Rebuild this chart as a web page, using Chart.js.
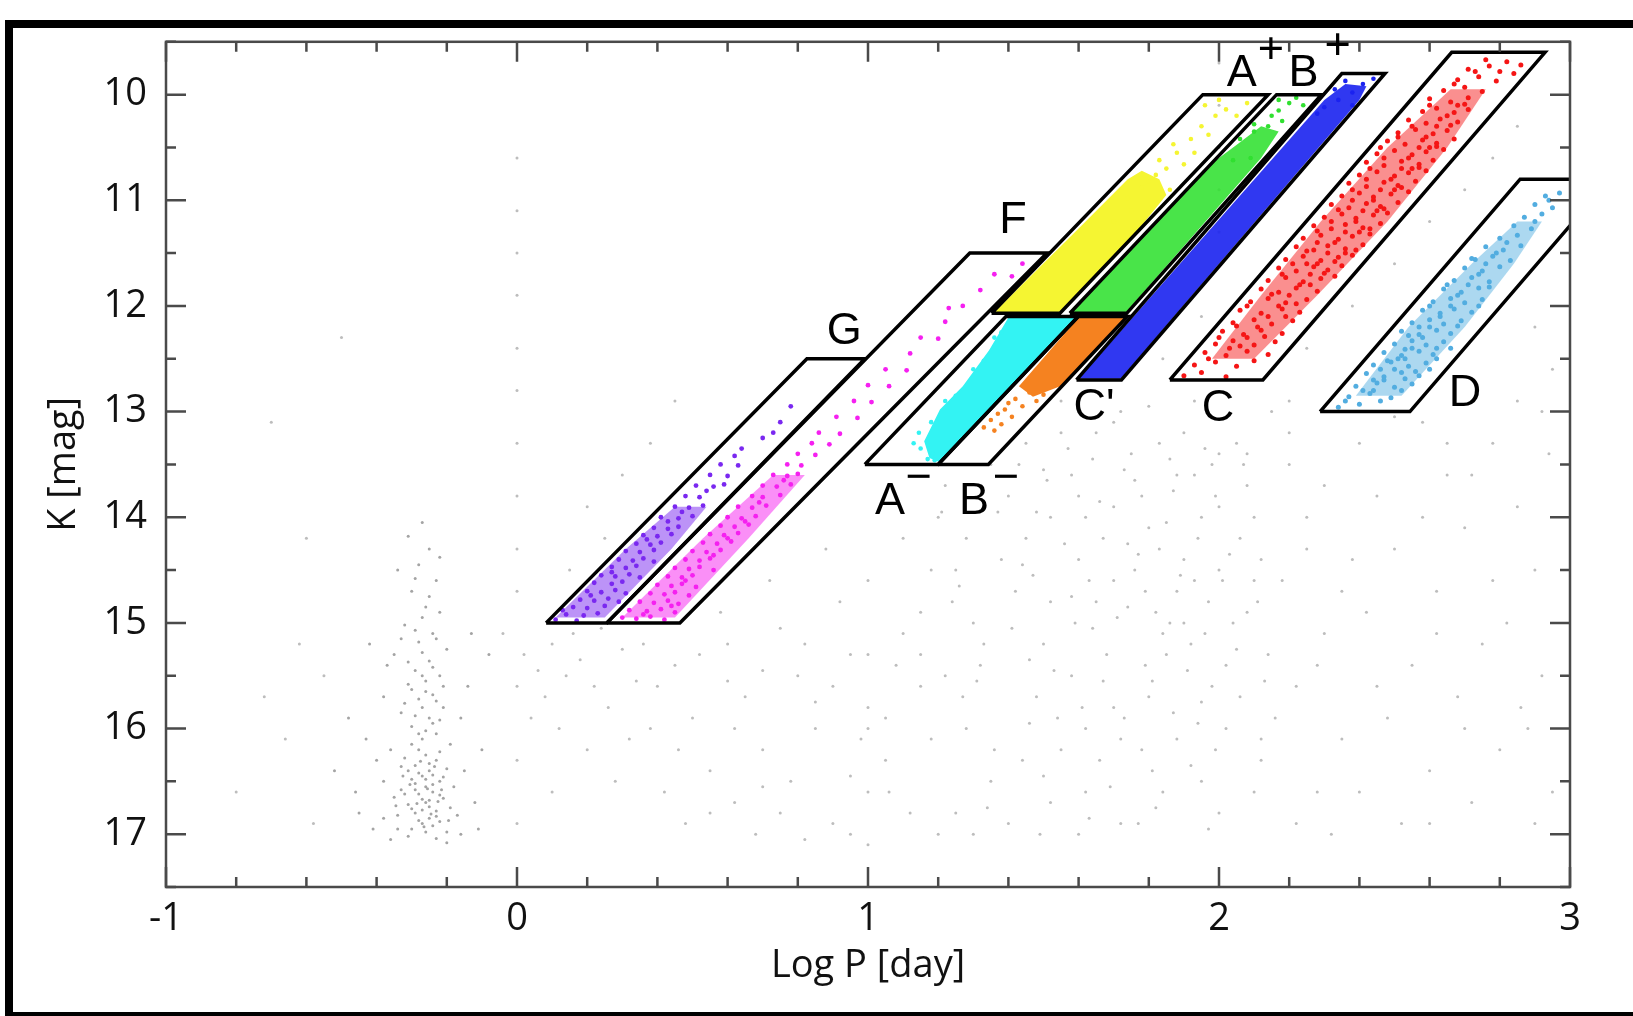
<!DOCTYPE html>
<html>
<head>
<meta charset="utf-8">
<title>K vs Log P</title>
<script src="https://cdn.jsdelivr.net/npm/chart.js@4.4.1/dist/chart.umd.min.js"></script>
<style>
    html, body { margin: 0; padding: 0; background: #fff; overflow: hidden; }
    #wrap { position: absolute; left: 0; top: 0; width: 1633px; height: 1016px; }
</style>
</head>
<body>
<div id="wrap"><canvas id="chart"></canvas></div>
<script>
// ===== DATA =====

const xTicks = [-1, 0, 1, 2, 3];
const xMinorTicks = [-0.8, -0.6, -0.4, -0.2, 0.2, 0.4, 0.6, 0.8, 1.2, 1.4, 1.6, 1.8, 2.2, 2.4, 2.6, 2.8];
const yTicks = [10, 11, 12, 13, 14, 15, 16, 17];
const yMinorTicks = [9.5, 10.5, 11.5, 12.5, 13.5, 14.5, 15.5, 16.5, 17.5];

// gray field stars: short-period clump and the broad cloud
const grayClump = [
    [-0.27,16.9],[-0.25,16.85],[-0.29,16.8],[-0.23,16.78],[-0.31,16.72],[-0.26,16.7],[-0.21,16.66],[-0.28,16.62],
    [-0.24,16.6],[-0.33,16.58],[-0.26,16.55],[-0.22,16.5],[-0.3,16.48],[-0.27,16.45],[-0.25,16.4],[-0.2,16.38],
    [-0.29,16.35],[-0.23,16.3],[-0.32,16.28],[-0.26,16.25],[-0.28,16.2],[-0.24,16.92],[-0.3,16.95],[-0.22,16.88],
    [-0.34,16.82],[-0.19,16.75],[-0.27,16.77],[-0.25,16.68],[-0.29,16.52],[-0.24,16.44],[-0.35,16.65],[-0.18,16.55],
    [-0.31,16.4],[-0.27,16.1],[-0.23,16.05],[-0.3,15.98],[-0.25,15.9],[-0.33,15.85],[-0.21,15.8],[-0.28,15.72],
    [-0.26,15.65],[-0.31,15.58],[-0.22,15.5],[-0.29,15.45],[-0.25,15.36],[-0.35,15.3],[-0.2,15.25],[-0.28,15.18],
    [-0.24,15.1],[-0.32,15.02],[-0.27,14.95],[-0.38,15.7],[-0.16,15.9],[-0.4,16.3],[-0.15,16.4],[-0.26,14.85],
    [-0.3,14.7],[-0.23,14.6],[-0.28,14.45],[-0.25,14.3],[-0.31,14.18],[-0.27,14.05],[-0.22,14.9],[-0.34,14.5],
    [-0.45,16.8],[-0.41,16.95],[-0.38,16.5],[-0.43,16.1],[-0.37,15.4],[-0.12,16.7],[-0.1,16.2],[-0.14,15.6],
    [-0.08,15.3],[-0.16,17.0],[-0.36,17.05],[-0.2,17.08],[-0.48,15.9],[-0.52,16.4],[-0.11,16.95],
    [-0.26,16.98],[-0.28,16.87],[-0.23,16.83],[-0.3,16.76],[-0.25,16.74],[-0.27,16.67],[-0.22,16.63],[-0.32,16.62],
    [-0.29,16.58],[-0.24,16.53],[-0.26,16.48],[-0.21,16.46],[-0.28,16.42],[-0.33,16.36],[-0.25,16.33],[-0.22,16.22],
    [-0.3,16.15],[-0.26,16.02],[-0.24,15.95],[-0.29,15.88],[-0.27,15.8],[-0.23,15.74],[-0.3,15.63],[-0.26,15.55],
    [-0.24,15.42],[-0.31,15.37],[-0.27,15.28],[-0.23,15.15],[-0.29,15.07],[-0.25,14.75],[-0.29,14.58],[-0.22,14.38],
    [-0.36,16.2],[-0.19,16.15],[-0.38,16.85],[-0.17,16.82],[-0.2,16.98],[-0.34,16.95],[-0.31,17.02],[-0.23,17.04],
    [-0.265,16.93],[-0.245,16.81],[-0.285,16.71],[-0.225,16.69],[-0.305,16.53],[-0.255,16.57],[-0.235,16.36],
    [-0.275,16.31],[-0.215,16.58],[-0.325,16.45],[-0.195,16.87],[-0.345,16.73],[-0.28,16.05],[-0.22,15.92],
    [-0.32,15.76],[-0.24,15.68],[-0.27,15.5],[-0.33,15.15],[-0.21,15.6],[-0.42,15.2],[-0.13,15.1],[-0.46,16.6]
];
const grayField = [
    [-0.62,15.2],[-0.58,16.9],[-0.66,16.1],[-0.72,15.7],[-0.55,15.5],[-0.8,16.6],[-0.7,13.1],[-0.5,12.3],[-0.6,14.2],
    [0.0,10.6],[0.0,11.1],[0.0,11.5],[0.0,11.9],[0.0,12.4],[0.0,12.8],[0.0,13.3],[0.0,13.8],[0.0,14.3],[0.0,14.7],
    [0.0,15.6],[0.0,16.3],[0.0,16.9],[2.0,9.7],[2.0,10.1],[2.0,10.5],[2.0,10.9],[2.0,11.3],[2.0,13.4],[2.0,13.9],
    [2.0,14.5],[1.0,16.0],[1.0,16.6],[1.0,17.1],[1.0,15.3],
    [0.02,15.3],[0.06,15.45],[0.1,15.2],[0.14,15.5],[0.08,15.7],[0.18,15.35],[0.22,15.6],[0.04,15.9],[0.12,16.0],
    [0.26,15.8],[0.3,15.25],[0.34,15.55],[0.2,16.2],[-0.04,15.1],[0.16,15.1],[0.28,16.5],[0.38,16.0],[0.1,16.6],
    [0.36,15.2],[0.24,15.05],[0.25,14.2],[0.3,13.6],[0.38,13.3],[0.2,13.9],[0.45,12.9],[0.15,14.5],
    [0.45,15.4],[0.5,15.9],[0.55,16.4],[0.48,16.9],[0.6,15.2],[0.65,15.7],[0.7,16.2],[0.62,16.7],[0.75,15.05],
    [0.8,15.5],[0.85,16.0],[0.78,16.5],[0.9,16.9],[0.95,15.3],[1.0,15.8],[1.05,16.3],[0.92,14.8],[1.1,15.1],
    [1.15,15.6],[1.12,16.8],[0.58,14.9],[0.72,14.6],[0.68,17.0],[0.42,16.6],[0.88,14.3],[1.0,14.6],[0.82,17.05],
    [1.2,14.0],[1.25,14.5],[1.3,15.0],[1.22,15.5],[1.28,16.0],[1.35,16.5],[1.3,17.0],[1.4,13.8],[1.45,14.2],
    [1.42,14.7],[1.5,15.2],[1.48,15.7],[1.55,16.2],[1.52,16.7],[1.58,13.6],[1.62,14.0],[1.6,14.4],[1.65,14.8],
    [1.68,15.3],[1.7,15.8],[1.66,16.3],[1.72,16.9],[1.75,13.4],[1.78,13.8],[1.8,14.1],[1.76,14.5],[1.82,14.9],
    [1.85,15.3],[1.8,15.7],[1.88,16.1],[1.84,16.6],[1.9,13.2],[1.93,13.6],[1.95,14.0],[1.9,14.4],[1.97,14.8],
    [1.92,15.2],[1.98,15.6],[2.02,16.0],[1.95,16.5],[2.05,13.3],[2.08,13.7],[2.06,14.2],[2.1,14.6],[2.04,15.0],
    [1.35,13.5],[1.55,13.2],[1.7,13.1],[1.86,13.45],[1.74,14.25],[1.64,15.05],[1.58,15.5],[1.46,15.95],[1.38,14.4],
    [1.52,14.0],[1.84,15.1],[1.94,15.95],[2.0,16.8],[1.62,16.6],[1.44,16.3],[1.25,16.8],[1.18,14.5],[1.32,15.4],
    [1.7,14.6],[1.88,14.7],[1.66,13.85],[1.78,16.2],[1.6,17.0],[1.55,12.9],[1.65,13.2],[1.45,13.3],[1.5,13.55],
    [2.15,13.0],[2.2,13.5],[2.25,14.0],[2.18,14.6],[2.3,15.1],[2.22,15.6],[2.35,16.1],[2.28,16.6],[2.4,13.3],
    [2.45,13.8],[2.5,14.3],[2.42,14.9],[2.55,15.4],[2.48,15.9],[2.6,16.4],[2.52,16.9],[2.65,13.6],[2.7,14.1],
    [2.62,14.7],[2.75,15.2],[2.68,15.7],[2.8,16.2],[2.72,16.7],[2.85,13.9],[2.9,14.5],[2.82,15.0],[2.92,15.5],
    [2.88,16.0],[2.95,16.6],[2.58,13.1],[2.78,13.3],[2.12,16.3],[2.32,17.0],[2.2,12.9],
    [2.25,12.4],[2.38,12.0],[2.5,11.6],[2.6,11.2],[2.7,10.9],[2.78,10.6],[2.85,10.3],[2.9,12.2],[2.95,12.6],
    [2.85,12.9],[2.92,13.0],[1.84,12.5],[1.95,12.1],[1.93,12.9],[1.8,12.95],[1.72,13.0],
    [1.22,13.7],[1.28,14.2],[1.24,14.8],[1.33,15.2],[1.27,15.7],[1.36,16.2],[1.4,16.9],[1.43,13.5],[1.48,13.95],
    [1.44,14.45],[1.52,14.8],[1.46,15.35],[1.54,15.9],[1.5,16.45],[1.57,13.35],[1.6,13.8],[1.56,14.25],[1.63,14.6],
    [1.59,15.0],[1.67,15.55],[1.62,16.0],[1.69,16.55],[1.73,13.55],[1.7,13.9],[1.77,14.35],[1.74,14.85],[1.79,15.4],
    [1.73,15.9],[1.81,16.4],[1.77,16.9],[1.83,13.3],[1.87,13.75],[1.83,14.3],[1.89,14.55],[1.86,15.0],[1.91,15.45],
    [1.87,15.85],[1.92,16.35],[1.96,13.35],[1.99,13.8],[1.94,14.2],[2.01,14.6],[1.96,15.1],[2.02,15.4],[1.99,16.2],
    [2.07,13.5],[2.1,14.0],[2.12,14.4],[2.08,14.9],[2.14,15.3],[2.06,15.7],[2.12,16.1],[2.1,16.6],[1.1,14.2],
    [1.15,14.9],[1.08,15.4],[1.18,16.1],[1.06,16.6],[1.2,17.0],[0.98,16.1],[0.9,15.6],[0.82,15.2],[0.7,15.45],
    [0.62,16.0],[0.52,15.3],[0.4,15.6],[0.32,16.1],[0.55,16.8],[0.75,16.8],[0.95,17.0],[2.2,13.2],[2.3,13.7],
    [2.38,14.4],[2.28,15.4],[2.45,15.6],[2.58,14.0],[2.62,15.1],[2.7,16.0],[2.78,14.6],[2.86,15.8],[2.9,16.9],
    [2.4,16.6],[2.22,16.9],[2.6,16.9],[2.35,14.7],[2.16,15.9],[2.25,14.3],[2.5,13.05],[2.65,13.3],[2.72,13.6],[2.94,13.4],
    [1.21,13.95],[1.26,14.65],[1.31,15.55],[1.37,13.95],[1.41,15.05],[1.47,14.55],[1.51,13.65],[1.53,15.45],
    [1.58,14.75],[1.61,15.8],[1.64,13.45],[1.67,14.2],[1.71,14.95],[1.72,16.1],[1.76,13.65],[1.79,14.7],
    [1.81,15.55],[1.85,14.05],[1.88,13.6],[1.9,15.0],[1.93,14.6],[1.95,15.75],[1.98,13.5],[2.03,14.35],
    [2.05,15.25],[2.08,13.4],[2.11,14.8],[2.13,15.55],[1.34,16.75],[1.49,17.0],[1.63,16.85],[1.82,16.75],
    [1.97,16.95],[1.15,15.3],[1.05,15.9],[0.95,16.45],[0.85,15.75],[0.7,16.55],[0.6,15.55],[0.46,16.2]
];

// colored period-luminosity groups
const starsG = [
    [0.14,14.92],[0.19,14.93],[0.23,14.91],[0.11,14.97],[0.17,14.98],[0.16,14.85],[0.20,14.86],[0.25,14.84],
    [0.18,14.78],[0.22,14.79],[0.26,14.77],[0.29,14.8],[0.20,14.7],[0.24,14.71],[0.28,14.69],[0.31,14.72],
    [0.22,14.62],[0.27,14.63],[0.30,14.61],[0.24,14.55],[0.28,14.56],[0.32,14.54],[0.35,14.57],[0.27,14.47],
    [0.31,14.48],[0.34,14.46],[0.29,14.4],[0.33,14.41],[0.36,14.39],[0.39,14.42],[0.31,14.32],[0.35,14.33],
    [0.39,14.31],[0.34,14.25],[0.38,14.26],[0.41,14.24],[0.36,14.17],[0.40,14.18],[0.44,14.16],[0.39,14.1],
    [0.43,14.11],[0.46,14.09],[0.41,14.0],[0.46,14.01],[0.50,13.99],[0.45,13.9],[0.49,13.91],[0.53,13.89],
    [0.48,13.8],[0.52,13.81],[0.51,13.7],[0.56,13.71],[0.59,13.69],[0.55,13.6],[0.60,13.61],[0.58,13.5],
    [0.63,13.51],[0.64,13.35],[0.70,13.25],[0.73,13.2],[0.75,13.1],[0.78,12.95],
    [0.13,14.88],[0.21,14.74],[0.27,14.52],[0.37,14.21],[0.43,14.04],[0.47,13.95],[0.54,13.75],[0.62,13.42]
];
const coreG = [[0.11,14.95],[0.25,14.95],[0.44,14.3],[0.54,13.9],[0.45,13.9],[0.31,14.3]];
const starsF = [
    [0.30,14.95],[0.34,14.96],[0.38,14.94],[0.42,14.97],[0.32,14.88],[0.37,14.89],[0.41,14.87],[0.45,14.9],
    [0.35,14.8],[0.39,14.81],[0.43,14.79],[0.46,14.82],[0.38,14.72],[0.42,14.73],[0.45,14.71],[0.49,14.74],
    [0.40,14.64],[0.44,14.65],[0.47,14.63],[0.51,14.66],[0.43,14.56],[0.47,14.57],[0.50,14.55],[0.45,14.48],
    [0.49,14.49],[0.52,14.47],[0.56,14.5],[0.48,14.4],[0.52,14.41],[0.55,14.39],[0.50,14.32],[0.54,14.33],
    [0.58,14.31],[0.53,14.24],[0.57,14.25],[0.61,14.23],[0.55,14.16],[0.59,14.17],[0.63,14.15],[0.58,14.08],
    [0.62,14.09],[0.66,14.07],[0.60,14.0],[0.64,14.01],[0.68,13.99],[0.63,13.9],[0.67,13.91],[0.71,13.89],
    [0.67,13.8],[0.70,13.81],[0.75,13.79],[0.70,13.7],[0.74,13.71],[0.78,13.69],[0.73,13.6],[0.77,13.61],
    [0.80,13.59],[0.77,13.5],[0.81,13.51],[0.80,13.4],[0.85,13.41],[0.84,13.3],[0.89,13.31],[0.86,13.2],
    [0.92,13.21],[0.91,13.05],[0.97,13.06],[0.96,12.9],[1.01,12.91],[1.00,12.75],[1.06,12.76],[1.05,12.6],
    [1.11,12.61],[1.12,12.45],[1.15,12.3],[1.20,12.31],[1.22,12.15],[1.27,12.0],[1.23,12.02],[1.32,11.85],
    [1.36,11.7],[1.41,11.72],[1.44,11.6],
    [0.36,14.92],[0.44,14.84],[0.48,14.6],[0.56,14.36],[0.6,14.2],[0.65,14.04],[0.69,13.86],[0.76,13.65]
];
const coreF = [[0.30,14.95],[0.45,14.95],[0.66,14.2],[0.82,13.6],[0.73,13.6],[0.53,14.2]];
const starsAplus = [
    [1.80,10.82],[1.85,10.70],[1.78,10.88],[1.88,10.55],[1.83,10.62],[1.92,10.42],[1.87,10.47],[1.95,10.30],
    [1.99,10.20],[2.02,10.14],[1.96,10.10],[1.90,10.66],[1.82,10.76],[1.86,10.9],[1.75,11.1],[1.81,11.05],
    [1.70,11.2],[1.66,11.28],[1.74,10.98],[2.05,10.2],[2.08,10.08],[1.93,10.55],[1.97,10.38],[1.76,11.25],[2.0,10.05]
];
const coreAplus = [[1.36,12.06],[1.545,12.06],[1.765,11.3],[1.85,10.95],[1.83,10.8],[1.78,10.72],[1.74,10.8],[1.62,11.2]];
const starsBplus = [
    [2.06,10.42],[2.10,10.35],[2.14,10.3],[2.10,10.28],[2.15,10.2],[2.17,10.15],[2.2,10.08],[2.17,10.05],
    [2.22,10.03],[2.18,10.25],[2.04,10.62],[2.09,10.6],[2.24,10.1]
];
const coreBplus = [[1.58,12.06],[1.735,12.06],[2.12,10.6],[2.17,10.35],[2.12,10.3],[2.06,10.45],[1.98,10.65]];
const starsCprime = [
    [2.30,10.12],[2.34,10.05],[2.38,9.98],[2.33,9.95],[2.41,9.9],[2.36,9.87],[2.44,9.85],[2.38,10.1],[2.28,10.18]
];
const coreCprime = [[1.60,12.69],[1.72,12.69],[2.40,10.05],[2.42,9.92],[2.36,9.9],[2.30,10.05]];
const starsAminus = [
    [1.15,13.35],[1.17,13.45],[1.13,13.3],[1.185,13.4],[1.145,13.2],[1.19,13.46],[1.18,13.1],[1.22,12.9],
    [1.25,12.85],[1.30,12.6],[1.33,12.52],[1.36,12.3],[1.38,12.25]
];
const coreAminus = [[1.40,12.11],[1.597,12.11],[1.205,13.48],[1.175,13.44],[1.16,13.28],[1.205,12.98],[1.27,12.76],[1.345,12.42]];
const starsBminus = [
    [1.40,12.92],[1.44,12.95],[1.37,13.02],[1.35,13.08],[1.38,13.12],[1.33,13.15],[1.42,12.88],[1.48,12.9],
    [1.39,12.98],[1.46,12.82],[1.50,12.84],[1.36,13.18],[1.41,13.05]
];
const coreBminus = [[1.60,12.11],[1.738,12.11],[1.555,12.75],[1.47,12.86],[1.43,12.76]];
const starsC = [
    [1.90,12.66],[1.95,12.63],[2.02,12.67],[1.93,12.56],[1.99,12.53],[2.05,12.57],[2.10,12.52],
    [1.96,12.44],[2.02,12.47],[2.08,12.43],[2.14,12.46],[1.99,12.36],[2.04,12.33],[2.10,12.37],[2.16,12.34],
    [2.01,12.24],[2.07,12.27],[2.12,12.23],[2.18,12.26],[2.04,12.16],[2.10,12.13],[2.15,12.17],[2.21,12.14],
    [2.06,12.04],[2.12,12.07],[2.18,12.03],[2.23,12.06],[2.09,11.96],[2.14,11.93],[2.19,11.97],[2.25,11.94],
    [2.12,11.84],[2.17,11.87],[2.22,11.83],[2.28,11.86],[2.14,11.76],[2.19,11.73],[2.24,11.77],[2.29,11.74],
    [2.33,11.72],[2.17,11.64],[2.22,11.67],[2.27,11.63],[2.31,11.66],[2.35,11.62],[2.19,11.56],[2.24,11.53],
    [2.29,11.57],[2.34,11.54],[2.38,11.52],[2.22,11.44],[2.27,11.47],[2.31,11.43],[2.36,11.46],[2.41,11.42],
    [2.24,11.36],[2.29,11.33],[2.34,11.37],[2.38,11.34],[2.43,11.32],[2.27,11.24],[2.32,11.27],[2.36,11.23],
    [2.41,11.26],[2.46,11.22],[2.30,11.16],[2.35,11.13],[2.39,11.17],[2.44,11.14],[2.48,11.12],[2.32,11.04],
    [2.37,11.07],[2.42,11.03],[2.46,11.06],[2.51,11.02],[2.35,10.96],[2.40,10.93],[2.44,10.97],[2.49,10.94],
    [2.54,10.92],[2.37,10.84],[2.42,10.87],[2.47,10.83],[2.51,10.86],[2.56,10.82],[2.40,10.76],[2.45,10.73],
    [2.50,10.77],[2.54,10.74],[2.59,10.72],[2.42,10.64],[2.47,10.67],[2.52,10.63],[2.57,10.66],[2.61,10.62],
    [2.45,10.56],[2.50,10.53],[2.55,10.57],[2.59,10.54],[2.64,10.52],[2.48,10.44],[2.53,10.47],[2.58,10.43],
    [2.62,10.46],[2.67,10.42],[2.51,10.36],[2.56,10.33],[2.61,10.37],[2.65,10.34],[2.54,10.24],[2.59,10.27],
    [2.63,10.23],[2.68,10.26],[2.58,10.16],[2.62,10.13],[2.67,10.17],[2.71,10.14],[2.60,10.04],[2.66,10.07],
    [2.71,10.03],[2.64,9.96],[2.70,9.93],[2.75,9.97],[2.68,9.86],[2.74,9.83],[2.79,9.87],[2.71,9.76],
    [2.77,9.73],[2.76,9.67],[2.82,9.69],
    [2.03,12.40],[2.08,12.30],[2.11,12.20],[2.14,12.10],[2.17,12.00],[2.20,11.90],[2.23,11.80],[2.26,11.70],
    [2.28,11.60],[2.31,11.50],[2.33,11.40],[2.36,11.30],[2.39,11.20],[2.41,11.10],[2.44,11.00],[2.46,10.90],
    [2.49,10.80],[2.52,10.70],[2.54,10.60],[2.57,10.50],[2.59,10.40],[2.62,10.30],[2.65,10.20],[2.68,10.10],
    [2.25,11.60],[2.36,11.50],[2.28,11.40],[2.40,11.30],[2.32,11.20],[2.45,11.10],[2.38,11.00],[2.50,10.90],
    [2.42,10.80],[2.55,10.70],[2.47,10.60],[2.60,10.50],[2.51,10.40],
    [1.97,12.5],[2.06,12.38],[2.0,12.3],[2.13,12.29],[2.05,12.19],[2.19,12.1],[2.08,12.0],[2.22,11.98],
    [2.15,11.89],[2.26,11.8],[2.18,11.7],[2.3,11.69],[2.21,11.6],[2.33,11.58],[2.25,11.48],[2.39,11.47],
    [2.28,11.29],[2.43,11.27],[2.34,11.09],[2.47,11.08],[2.38,10.9],[2.52,10.88],[2.43,10.7],[2.57,10.69],
    [2.46,10.5],[2.62,10.49],[2.55,10.3],[2.66,10.29],[2.6,10.1],[2.7,10.09],[2.67,9.9],[2.73,9.78],
    [2.8,9.78],[2.86,9.72],[2.84,9.8]
];
const coreC = [[1.98,12.5],[2.10,12.5],[2.28,11.9],[2.48,11.2],[2.65,10.5],[2.76,9.95],[2.66,9.95],[2.48,10.5],[2.29,11.2],[2.12,11.9]];
const starsD = [
    [2.34,12.96],[2.40,12.93],[2.37,12.86],[2.43,12.83],[2.49,12.87],[2.39,12.76],[2.45,12.73],[2.50,12.77],
    [2.55,12.74],[2.42,12.64],[2.47,12.67],[2.52,12.63],[2.57,12.66],[2.44,12.56],[2.49,12.53],[2.54,12.57],
    [2.59,12.54],[2.47,12.44],[2.52,12.47],[2.57,12.43],[2.61,12.46],[2.50,12.36],[2.55,12.33],[2.59,12.37],
    [2.64,12.34],[2.52,12.24],[2.57,12.27],[2.62,12.23],[2.66,12.26],[2.55,12.16],[2.60,12.13],[2.64,12.17],
    [2.69,12.14],[2.58,12.04],[2.63,12.07],[2.67,12.03],[2.72,12.06],[2.61,11.96],[2.66,11.93],[2.70,11.97],
    [2.75,11.94],[2.64,11.84],[2.69,11.87],[2.74,11.83],[2.67,11.76],[2.72,11.73],[2.77,11.77],[2.70,11.64],
    [2.75,11.67],[2.80,11.63],[2.73,11.56],[2.78,11.53],[2.83,11.57],[2.76,11.44],[2.81,11.47],[2.86,11.43],
    [2.80,11.36],[2.85,11.33],[2.84,11.24],[2.89,11.27],[2.87,11.16],[2.92,11.13],[2.90,11.04],[2.95,11.07],
    [2.93,10.96],[2.97,10.93],
    [2.47,12.70],[2.50,12.60],[2.53,12.50],[2.55,12.40],[2.58,12.30],[2.60,12.20],[2.63,12.10],[2.66,12.00],
    [2.68,11.90],[2.71,11.80],[2.74,11.70],[2.76,11.60],[2.79,11.50],[2.44,12.80],[2.56,12.62],[2.48,12.52],
    [2.62,12.40],[2.54,12.28],
    [2.36,12.9],[2.46,12.9],[2.41,12.8],[2.52,12.8],[2.44,12.7],[2.53,12.69],[2.46,12.6],[2.6,12.6],
    [2.51,12.5],[2.62,12.5],[2.53,12.41],[2.66,12.4],[2.57,12.2],[2.68,12.19],[2.6,12.0],[2.74,12.0],
    [2.65,11.8],[2.77,11.82],[2.72,11.55],[2.82,11.4],[2.9,11.2],[2.94,11.0]
];
const coreD = [[2.39,12.85],[2.52,12.85],[2.70,12.2],[2.84,11.6],[2.92,11.2],[2.85,11.2],[2.72,11.6],[2.54,12.2]];

// selection boxes (closed outlines)
const boxG = [[0.083,15.0],[0.826,12.5],[0.991,12.5],[0.256,15.0],[0.083,15.0]];
const boxF = [[0.256,15.0],[1.29,11.5],[1.51,11.5],[0.464,15.0],[0.256,15.0]];
const boxAplus = [[1.352,12.07],[1.954,10.0],[2.14,10.0],[1.547,12.07],[1.352,12.07]];
const boxBplus = [[1.575,12.07],[2.164,10.0],[2.292,10.0],[1.737,12.07],[1.575,12.07]];
const boxCprime = [[1.594,12.7],[2.35,9.8],[2.473,9.8],[1.722,12.7],[1.594,12.7]];
const boxAminus = [[0.991,13.5],[1.393,12.1],[1.599,12.1],[1.2,13.5],[0.991,13.5]];
const boxBminus = [[1.2,13.5],[1.599,12.1],[1.739,12.1],[1.343,13.5],[1.2,13.5]];
const boxC = [[1.86,12.7],[2.663,9.6],[2.929,9.6],[2.125,12.7],[1.86,12.7]];
const boxD = [[2.288,13.0],[2.858,10.8],[3.114,10.8],[2.544,13.0],[2.288,13.0]];

// box names: [text, logP, K]
const boxLabels = [
    ['G', 0.932, 12.24], ['F', 1.413, 11.19],
    ['A', 2.065, 9.8], ['+', 2.148, 9.58], ['B', 2.241, 9.8], ['+', 2.338, 9.55],
    ["C'", 1.644, 12.96], ['C', 1.997, 12.97], ['D', 2.701, 12.83],
    ['A', 1.063, 13.85], ['\u2212', 1.144, 13.63], ['B', 1.302, 13.85], ['\u2212', 1.393, 13.63]
];

// ===== STYLE =====

const COLORS = {
    G: '#7a28f0', F: '#f520f0', Aplus: '#f5f532', Bplus: '#30e030', Cprime: '#1a22f0',
    Aminus: '#33f3f3', Bminus: '#f58220', C: '#f51515', D: '#52ade0'
};
const CORE_FILLS = {
    G: 'rgba(122,40,240,0.5)', F: 'rgba(245,32,240,0.5)', Bplus: 'rgba(48,224,48,0.88)',
    Cprime: 'rgba(26,34,240,0.9)', C: 'rgba(245,21,21,0.48)', D: 'rgba(82,173,224,0.48)'
};
const TEXT_FONT = '"Open Sans", "Noto Sans", sans-serif';

const toXY = arr => arr.map(([x, y]) => ({ x, y }));

function dots(data, color, radius, order = 2) {
    return { data: toXY(data), pointRadius: radius, backgroundColor: color, borderWidth: 0, pointHoverRadius: radius, order };
}

function core(data, color) {
    return { data: toXY(data), showLine: true, fill: 'shape', backgroundColor: color, borderWidth: 0, pointRadius: 0, order: 3 };
}

function outline(data) {
    return { data: toXY(data), showLine: true, fill: false, borderColor: '#000', borderWidth: 3.5, pointRadius: 0, tension: 0, order: 0 };
}

// ===== PLUGINS =====

/** Black page frame: top, left and bottom only (the right side is open) */
const pageFrame = {
    id: 'pageFrame',
    beforeDraw(chart) {
        const { ctx, width, height } = chart;
        ctx.save();
        ctx.fillStyle = '#000';
        ctx.fillRect(5, 20, width - 5, 8);
        ctx.fillRect(5, 20, 8, height - 20);
        ctx.fillRect(5, height - 4, width - 5, 4);
        ctx.restore();
    }
};

/** Plot frame with inward ticks on all four sides */
const frameTicks = {
    id: 'frameTicks',
    afterDatasetsDraw(chart) {
        const { ctx, chartArea: a, scales: { x, y } } = chart;
        ctx.save();
        ctx.strokeStyle = '#4a4a4a';
        ctx.lineWidth = 2.5;
        ctx.strokeRect(a.left, a.top, a.right - a.left, a.bottom - a.top);
        ctx.beginPath();
        const xMark = (v, len) => {
            const px = x.getPixelForValue(v);
            ctx.moveTo(px, a.bottom); ctx.lineTo(px, a.bottom - len);
            ctx.moveTo(px, a.top); ctx.lineTo(px, a.top + len);
        };
        const yMark = (v, len) => {
            const py = y.getPixelForValue(v);
            ctx.moveTo(a.left, py); ctx.lineTo(a.left + len, py);
            ctx.moveTo(a.right, py); ctx.lineTo(a.right - len, py);
        };
        xTicks.forEach(v => xMark(v, 20));
        xMinorTicks.forEach(v => xMark(v, 10));
        yTicks.forEach(v => yMark(v, 20));
        yMinorTicks.forEach(v => yMark(v, 10));
        ctx.stroke();
        ctx.restore();
    }
};

/** Box names placed in data coordinates */
const boxNames = {
    id: 'boxNames',
    afterDatasetsDraw(chart) {
        const { ctx, scales: { x, y } } = chart;
        ctx.save();
        ctx.fillStyle = '#000';
        ctx.font = '45px "Liberation Sans", Arial, sans-serif';
        ctx.textAlign = 'center';
        ctx.textBaseline = 'middle';
        boxLabels.forEach(([text, lx, ly]) => {
            ctx.fillText(text, x.getPixelForValue(lx), y.getPixelForValue(ly));
        });
        ctx.restore();
    }
};

// ===== CHART =====

new Chart(document.getElementById('chart'), {
    type: 'scatter',
    data: {
        datasets: [
            outline(boxG), outline(boxF), outline(boxAplus), outline(boxBplus), outline(boxCprime),
            outline(boxAminus), outline(boxBminus), outline(boxC), outline(boxD),
            dots(starsG, COLORS.G, 2.4), dots(starsF, COLORS.F, 2.4),
            dots(starsAplus, COLORS.Aplus, 2.3), dots(starsBplus, COLORS.Bplus, 2.3),
            dots(starsCprime, COLORS.Cprime, 2.3), dots(starsAminus, COLORS.Aminus, 2.3),
            dots(starsBminus, COLORS.Bminus, 2.3), dots(starsC, COLORS.C, 2.5), dots(starsD, COLORS.D, 2.5),
            core(coreAplus, COLORS.Aplus), core(coreBplus, CORE_FILLS.Bplus), core(coreCprime, CORE_FILLS.Cprime),
            core(coreAminus, COLORS.Aminus), core(coreBminus, COLORS.Bminus),
            core(coreG, CORE_FILLS.G), core(coreF, CORE_FILLS.F), core(coreC, CORE_FILLS.C), core(coreD, CORE_FILLS.D),
            dots(grayClump, '#a4a4a4', 1.5, 4),
            dots(grayField, '#bdbdbd', 1.5, 4)
        ]
    },
    options: {
        responsive: true,
        maintainAspectRatio: false,
        animation: false,
        events: [],
        layout: { padding: { left: 0, right: 63, top: 32, bottom: 0 } },
        plugins: { legend: { display: false }, tooltip: { enabled: false } },
        scales: {
            x: {
                type: 'linear', min: -1, max: 3,
                afterBuildTicks: s => { s.ticks = xTicks.map(v => ({ value: v })); },
                afterFit: s => { s.height = 129; },
                grid: { display: false, drawTicks: false },
                border: { display: false },
                ticks: { color: '#111', padding: 9, font: { family: TEXT_FONT, size: 38 } },
                title: { display: true, text: 'Log P [day]', color: '#111', padding: { top: 0, bottom: 27 }, font: { family: TEXT_FONT, size: 38 } }
            },
            y: {
                type: 'linear', min: 9.5, max: 17.5, reverse: true,
                afterBuildTicks: s => { s.ticks = yTicks.map(v => ({ value: v })); },
                afterFit: s => { s.width = 166; },
                grid: { display: false, drawTicks: false },
                border: { display: false },
                ticks: { color: '#111', padding: 19, font: { family: TEXT_FONT, size: 38 } },
                title: { display: true, text: 'K [mag]', color: '#111', padding: { top: 41, bottom: 0 }, font: { family: TEXT_FONT, size: 38 } }
            }
        }
    },
    plugins: [pageFrame, frameTicks, boxNames]
});
</script>
</body>
</html>
